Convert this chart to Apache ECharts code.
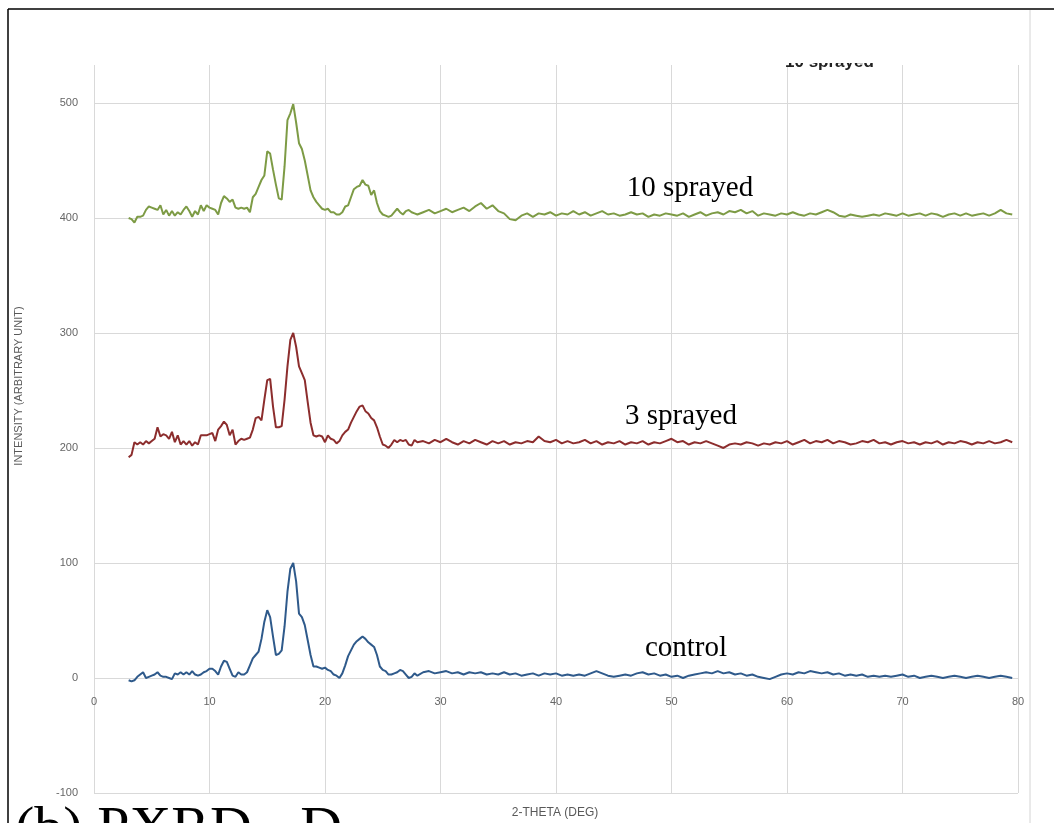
<!DOCTYPE html>
<html>
<head>
<meta charset="utf-8">
<script src="https://cdn.jsdelivr.net/npm/echarts@6/dist/echarts.min.js"></script>
<style>
  html, body { margin: 0; padding: 0; background: #fff; }
  #chart { width: 1054px; height: 823px; }
</style>
</head>
<body>
<div id="chart"></div>
<script>
// 2-theta sampling: 0.25 deg steps from 3 to 28, then 0.5 deg steps up to 80
var theta = [];
for (var i = 0; i <= 100; i++) theta.push(3 + i * 0.25);
for (var j = 1; j <= 103; j++) theta.push(28 + j * 0.5);

var sprayed10 = [
  400, 399, 396, 401, 401, 402, 407, 410, 409, 408,
  407, 411, 403, 407, 402, 406, 402, 405, 403, 407,
  410, 406, 401, 406, 403, 411, 406, 411, 409, 408,
  407, 403, 413, 419, 417, 414, 416, 409, 408, 409,
  408, 409, 405, 418, 421, 427, 433, 437, 458, 456,
  442, 429, 417, 416, 445, 485, 491, 499, 483, 465,
  460, 450, 437, 424, 418, 414, 411, 408, 407, 408,
  405, 405, 403, 403, 405, 410, 411, 418, 425, 427,
  428, 433, 429, 428, 420, 424, 413, 406, 403, 402,
  401, 402, 405, 408, 405, 403, 406, 407, 405, 404,
  403,
  405, 407, 404, 406, 408, 405, 407, 409, 406, 410,
  413, 408, 411, 406, 404, 399, 398, 402, 404, 401,
  404, 403, 405, 402, 404, 403, 406, 403, 405, 402,
  404, 406, 403, 404, 402, 403, 405, 403, 404, 401,
  403, 402, 404, 403, 402, 404, 401, 403, 405, 402,
  404, 405, 403, 406, 405, 407, 404, 406, 402, 404,
  403, 402, 404, 403, 405, 403, 402, 404, 403, 405,
  407, 405, 402, 401, 403, 402, 401, 402, 403, 402,
  404, 403, 402, 404, 402, 403, 404, 402, 404, 403,
  401, 403, 404, 402, 404, 402, 403, 404, 402, 404,
  407, 404, 403, 402
];

var sprayed3 = [
  192, 194, 205, 203, 205, 203, 206, 204, 206, 208,
  218, 210, 212, 211, 208, 214, 205, 211, 203, 206,
  203, 206, 202, 205, 203, 211, 211, 211, 212, 213,
  206, 216, 219, 223, 220, 211, 216, 203, 206, 208,
  207, 208, 209, 216, 226, 227, 224, 242, 259, 260,
  236, 218, 218, 219, 242, 271, 294, 300, 288, 271,
  265, 259, 240, 222, 211, 210, 211, 210, 205, 211,
  208, 207, 204, 206, 211, 214, 216, 222, 227, 232,
  236, 237, 232, 230, 226, 224, 218, 210, 203, 202,
  200, 203, 207, 205, 207, 206, 207, 203, 202, 207,
  205,
  206, 204, 207, 205, 208, 205, 203, 206, 204, 207,
  205, 203, 206, 204, 206, 203, 205, 204, 206, 205,
  210, 206, 205, 207, 204, 206, 204, 205, 207, 204,
  206, 203, 205, 204, 206, 203, 205, 204, 206, 203,
  205, 204, 206, 208, 205, 206, 203, 205, 204, 206,
  204, 202, 200, 203, 204, 203, 205, 204, 202, 204,
  203, 205, 204, 206, 203, 205, 207, 204, 206, 205,
  207, 204, 206, 205, 203, 204, 206, 205, 207, 204,
  205, 203, 205, 206, 204, 205, 203, 205, 204, 206,
  203, 205, 204, 206, 205, 203, 205, 204, 206, 204,
  205, 207, 205, 198
];

var control = [
  -2, -3, -2, 1, 3, 5, 0, 1, 2, 3,
  5, 2, 1, 1, 0, -1, 4, 3, 5, 3,
  5, 3, 6, 3, 2, 3, 5, 6, 8, 8,
  6, 3, 10, 15, 14, 8, 2, 1, 5, 3,
  3, 5, 11, 17, 20, 23, 34, 49, 59, 53,
  36, 20, 21, 24, 45, 75, 95, 100, 84, 56,
  53, 46, 33, 20, 10, 10, 9, 8, 9, 7,
  6, 3, 2, 0, 4, 11, 19, 24, 29, 32,
  34, 36, 34, 31, 29, 27, 20, 10, 7, 6,
  3, 3, 4, 5, 7, 6, 3, 0, 1, 4,
  2,
  5, 6, 4, 5, 6, 4, 5, 3, 5, 4,
  5, 3, 4, 3, 5, 3, 4, 2, 3, 4,
  2, 4, 3, 4, 2, 3, 2, 3, 2, 4,
  6, 4, 2, 1, 2, 3, 2, 4, 5, 3,
  4, 2, 3, 1, 2, 0, 2, 3, 4, 5,
  4, 6, 4, 5, 3, 4, 2, 3, 1, 0,
  -1, 1, 3, 4, 3, 5, 4, 6, 5, 4,
  5, 3, 4, 2, 3, 2, 3, 1, 2, 1,
  2, 1, 2, 3, 1, 2, 0, 1, 2, 1,
  0, 1, 2, 1, 0, 1, 2, 1, 0, 1,
  2, 1, 0, 0
];

var seriesNames = ['10 sprayed', '3 sprayed', 'control'];
var seriesColors = ['#7d9b45', '#8c2d2d', '#2f5a8b'];
var labelPos = [[690, 188], [681, 416], [686, 648]];

function pairs(vals) {
  return theta.map(function (t, k) { return [t, vals[k]]; });
}

var chart = echarts.init(document.getElementById('chart'));
var allData = [sprayed10, sprayed3, control];

var option = {
  animation: false,
  backgroundColor: '#fff',
  grid: { left: 94, right: 36, top: 65, bottom: 30 },
  xAxis: {
    type: 'value',
    min: 0, max: 80, interval: 10,
    axisLine: { show: false, onZero: false },
    axisTick: { show: false },
    // labels sit just under the zero line, as in the original
    axisLabel: { color: '#666', fontSize: 11, margin: -97, fontFamily: 'Liberation Sans' },
    splitLine: { show: true, lineStyle: { color: '#d9d9d9', width: 1 } }
  },
  yAxis: {
    type: 'value',
    min: -100, max: 533, interval: 100,
    axisLine: { show: false },
    axisTick: { show: false },
    axisLabel: { color: '#666', fontSize: 11, margin: 16, showMaxLabel: false, fontFamily: 'Liberation Sans' },
    splitLine: { show: true, showMaxLine: false, lineStyle: { color: '#d9d9d9', width: 1 } }
  },
  series: allData.map(function (d, k) {
    return {
      name: seriesNames[k],
      type: 'line',
      data: pairs(d),
      showSymbol: false,
      symbol: 'none',
      lineStyle: { color: seriesColors[k], width: 2 },
      z: 3
    };
  }),
  graphic: [
    // cut-off caption at the top
    { type: 'text', z: 5, left: 785, top: 54,
      style: { text: '10 sprayed', font: 'bold 17px "Liberation Sans"', fill: '#222' } },
    { type: 'rect', z: 6, shape: { x: 700, y: 10, width: 300, height: 53 }, style: { fill: '#fff' } },
    // frame
    { type: 'line', z: 10, shape: { x1: 8, y1: 9, x2: 8, y2: 823 }, style: { stroke: '#000', lineWidth: 1.5 } },
    { type: 'line', z: 10, shape: { x1: 8, y1: 9, x2: 1054, y2: 9 }, style: { stroke: '#000', lineWidth: 1.5 } },
    { type: 'line', z: 10, shape: { x1: 1030, y1: 10, x2: 1030, y2: 823 }, style: { stroke: '#d4d4d4', lineWidth: 1 } },
    // axis titles
    { type: 'text', z: 5, x: 19, y: 386, rotation: Math.PI / 2,
      style: { text: 'INTENSITY (ARBITRARY UNIT)', font: '11px "Liberation Sans"', fill: '#595959',
               align: 'center', verticalAlign: 'middle' } },
    { type: 'text', z: 5, x: 555, y: 813,
      style: { text: '2-THETA (DEG)', font: '12px "Liberation Sans"', fill: '#595959',
               align: 'center', verticalAlign: 'middle' } },
    // figure caption, cut by the bottom edge
    { type: 'text', z: 5, x: 15, y: 802,
      style: { text: '(b) PXRD - D', font: '58px "Liberation Serif"', fill: '#000',
               align: 'left', verticalAlign: 'top' } }
  ].concat(seriesNames.map(function (n, k) {
    return { type: 'text', z: 5, x: labelPos[k][0], y: labelPos[k][1],
      style: { text: n, font: '29px "Liberation Serif"', fill: '#000',
               align: 'center', verticalAlign: 'middle' } };
  }))
};

chart.setOption(option);
</script>
</body>
</html>
